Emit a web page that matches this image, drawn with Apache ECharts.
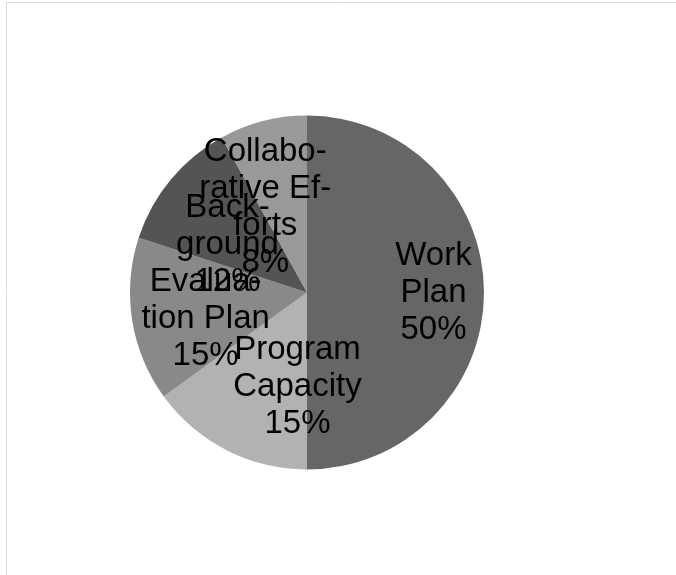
<!DOCTYPE html>
<html>
<head>
<meta charset="utf-8">
<style>
  html, body { margin: 0; padding: 0; background: #ffffff; }
  #chart { width: 676px; height: 575px; }
</style>
<script src="https://cdn.jsdelivr.net/npm/echarts@6/dist/echarts.min.js"></script>
</head>
<body>
<div id="chart"></div>
<script>
// ---- Data ----
const categories = ["Work Plan", "Program Capacity", "Evaluation Plan", "Background", "Collaborative Efforts"];
const values = [50, 15, 15, 12, 8];
// Wrapped (hyphenated) label text as shown in the chart
const labelLines = [
  ["Work", "Plan"],
  ["Program", "Capacity"],
  ["Evalua-", "tion Plan"],
  ["Back-", "ground"],
  ["Collabo-", "rative Ef-", "forts"]
];

// ---- Styles ----
const colors = ["#666666", "#b2b2b2", "#898989", "#545454", "#999999"];
const labelOffsets = [[35, 0], [32, 13], [-11, 12], [-9, 11], [-19, 4]];

const total = values.reduce((a, b) => a + b, 0);

const seriesData = categories.map((name, i) => ({
  name: name,
  value: values[i],
  itemStyle: { color: colors[i] },
  label: { offset: labelOffsets[i] }
}));

const chart = echarts.init(document.getElementById('chart'), null, { renderer: 'canvas' });
chart.setOption({
  animation: false,
  backgroundColor: '#ffffff',
  graphic: [{
    type: 'rect',
    shape: { x: 6.5, y: 2.5, width: 700, height: 600 },
    style: { fill: 'none', stroke: '#d9d9d9', lineWidth: 1 },
    silent: true
  }],
  series: [{
    type: 'pie',
    center: [307, 292.5],
    radius: [0, 177],
    startAngle: 90,
    clockwise: true,
    avoidLabelOverlap: false,
    emphasis: { disabled: true },
    itemStyle: { borderWidth: 0 },
    labelLayout: { hideOverlap: false },
    label: {
      show: true,
      position: 'inside',
      color: '#000000',
      fontFamily: 'Liberation Sans, Arial, sans-serif',
      fontSize: 33,
      lineHeight: 37,
      align: 'center',
      overflow: 'none',
      formatter: function (p) {
        const idx = p.dataIndex;
        const pct = Math.round(values[idx] / total * 100);
        return labelLines[idx].join('\n') + '\n' + pct + '%';
      }
    },
    labelLine: { show: false },
    data: seriesData
  }]
});
</script>
</body>
</html>
